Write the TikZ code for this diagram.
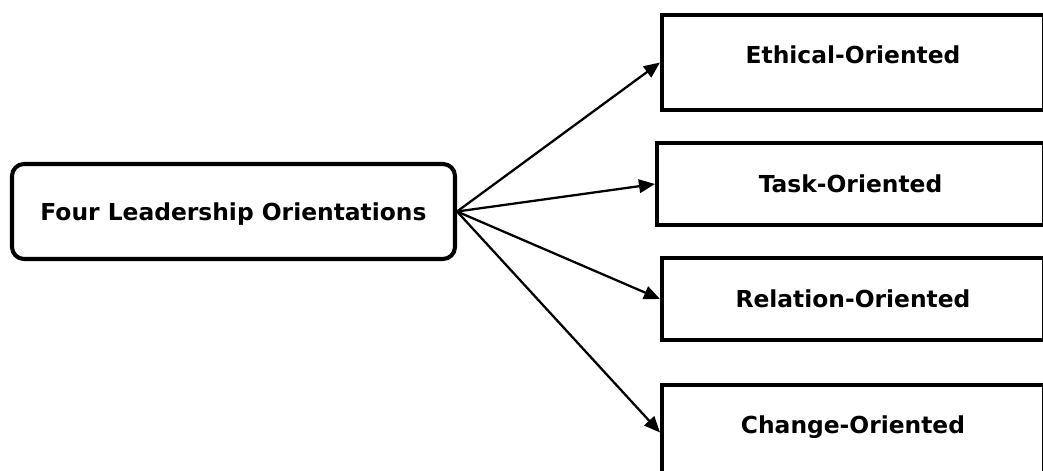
\documentclass[tikz,border=0pt]{standalone}
\usepackage{fontspec}
\setmainfont{DejaVu Sans}
\usetikzlibrary{arrows.meta}

\begin{document}
\begin{tikzpicture}[>={Triangle[length=0.32cm,width=0.27cm]},
    box/.style={draw, line width=2.3pt, font=\fontsize{13.3}{16}\selectfont\bfseries,
      text height=0.34cm, text depth=0cm, inner sep=0pt},
    leadbox/.style={box, rounded corners=0.24cm, minimum width=8.86cm, minimum height=1.9cm},
    optbox/.style={box, minimum width=7.64cm, minimum height=1.64cm},
    tallbox/.style={optbox, minimum height=1.9cm, text depth=0.3cm}]
  \path[use as bounding box] (0,0) rectangle (20.86,9.4);
  \clip (0,0) rectangle (20.86,9.4);
  \node[leadbox] (lead) at (4.67,5.17) {Four Leadership Orientations};
  \node[tallbox]                       (eth)  at (17.06,8.15) {Ethical-Oriented};
  \node[optbox, minimum width=7.74cm]  (task) at (17.01,5.72) {Task-Oriented};
  \node[optbox]                        (rel)  at (17.06,3.42) {Relation-Oriented};
  \node[tallbox]                       (chg)  at (17.06,0.75) {Change-Oriented};
  \draw[->, line width=1.3pt] (lead.east) -- (eth.west);
  \draw[->, line width=1.3pt] (lead.east) -- (task.west);
  \draw[->, line width=1.3pt] (lead.east) -- (rel.west);
  \draw[->, line width=1.3pt] (lead.east) -- (chg.west);
\end{tikzpicture}
\end{document}
